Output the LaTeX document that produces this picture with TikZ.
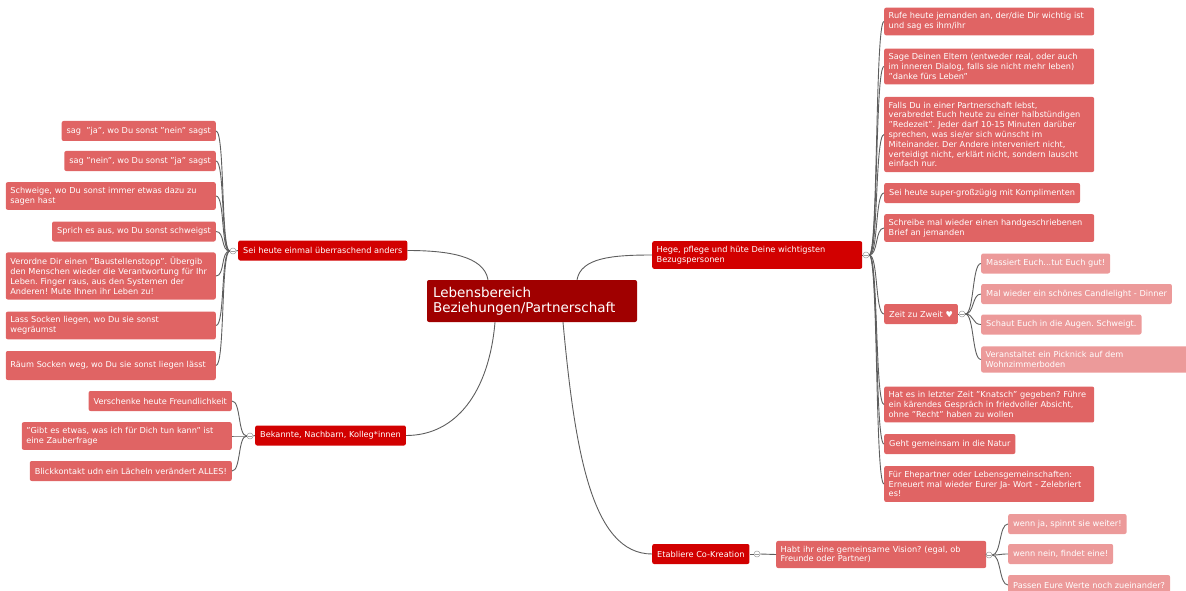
\documentclass[tikz,border=0pt]{standalone}
\usepackage{fontspec}
\setmainfont{DejaVu Sans}
\usepackage{xcolor}
\definecolor{hubred}{HTML}{A00000}
\definecolor{branchred}{HTML}{D20000}
\definecolor{leafred}{HTML}{E06464}
\definecolor{softred}{HTML}{EC9A9A}
\definecolor{linkgray}{HTML}{5E5E5E}
\frenchspacing

\begin{document}
\begin{tikzpicture}[x=1pt, y=-1pt,
    box/.style={rounded corners=2pt, text=white, font=\fontsize{8.2}{9.8}\selectfont, inner xsep=5pt, inner ysep=5pt, minimum height=20pt, align=left},
    leaf/.style={box, fill=leafred},
    soft/.style={box, fill=softred},
    branch/.style={box, fill=branchred},
    hub/.style={box, fill=hubred, font=\fontsize{13.5}{15}\selectfont, inner xsep=6pt, minimum height=42pt},
    wide/.style={text width=201pt, inner xsep=4.5pt},
    link/.style={draw=linkgray, line width=0.9pt},
    knob/.style={circle, draw=linkgray!60, fill=white, line width=0.5pt, inner sep=0pt, minimum size=6pt,
        path picture={\draw[linkgray!60, line width=0.4pt] ([xshift=1.2pt]path picture bounding box.west) -- ([xshift=-1.2pt]path picture bounding box.east);}}]
    \useasboundingbox (0,0) rectangle (1186,591);

    % centre
    \node[hub, text width=198pt] (ctr) at (532,301) {Lebensbereich\\Beziehungen/Partnerschaft};

    % left: Sei heute einmal ueberraschend anders
    \node[branch, anchor=west] (sei) at (238,250.5) {Sei heute einmal überraschend anders};
    \node[knob] (kSei) at (233,251) {};
    \node[leaf, anchor=east] (s1) at (216,131) {sag\ \ "ja", wo Du sonst "nein" sagst};
    \node[leaf, anchor=east] (s2) at (216,161) {sag "nein", wo Du sonst "ja" sagst};
    \node[leaf, wide, anchor=east] (s3) at (216,196) {Schweige, wo Du sonst immer etwas dazu zu\\sagen hast};
    \node[leaf, anchor=east] (s4) at (216,231.5) {Sprich es aus, wo Du sonst schweigst};
    \node[leaf, wide, anchor=east] (s5) at (216,276) {Verordne Dir einen "Baustellenstopp". Übergib\\den Menschen wieder die Verantwortung für Ihr\\Leben. Finger raus, aus den Systemen der\\Anderen! Mute Ihnen ihr Leben zu!};
    \node[leaf, wide, anchor=east] (s6) at (216,325.5) {Lass Socken liegen, wo Du sie sonst\\wegräumst};
    \node[leaf, wide, anchor=east, minimum height=29pt] (s7) at (216,365.5) {Räum Socken weg, wo Du sie sonst liegen lässt};

    % left: Bekannte
    \node[branch, anchor=west] (bek) at (255,435.5) {Bekannte, Nachbarn, Kolleg*innen};
    \node[knob] (kBek) at (250,436) {};
    \node[leaf, anchor=east] (b1) at (232,401) {Verschenke heute Freundlichkeit};
    \node[leaf, wide, anchor=east] (b2) at (232,436) {"Gibt es etwas, was ich für Dich tun kann" ist\\eine Zauberfrage};
    \node[leaf, anchor=east] (b3) at (232,471) {Blickkontakt udn ein Lächeln verändert ALLES!};

    % right: Hege, pflege ...
    \node[branch, wide, anchor=west] (hege) at (652,255) {Hege, pflege und hüte Deine wichtigsten\\Bezugspersonen};
    \node[knob] (kHege) at (866,255) {};
    \node[leaf, wide, anchor=west] (h1) at (884,21.5) {Rufe heute jemanden an, der/die Dir wichtig ist\\und sag es ihm/ihr};
    \node[leaf, wide, anchor=west] (h2) at (884,66.5) {Sage Deinen Eltern (entweder real, oder auch\\im inneren Dialog, falls sie nicht mehr leben)\\"danke fürs Leben"};
    \node[leaf, wide, anchor=west] (h3) at (884,134.5) {Falls Du in einer Partnerschaft lebst,\\verabredet Euch heute zu einer halbstündigen\\"Redezeit". Jeder darf 10-15 Minuten darüber\\sprechen, was sie/er sich wünscht im\\Miteinander. Der Andere interveniert nicht,\\verteidigt nicht, erklärt nicht, sondern lauscht\\einfach nur.};
    \node[leaf, anchor=west] (h4) at (884,193) {Sei heute super-großzügig mit Komplimenten};
    \node[leaf, wide, anchor=west] (h5) at (884,228) {Schreibe mal wieder einen handgeschriebenen\\Brief an jemanden};
    \node[leaf, anchor=west] (zeit) at (884,314) {Zeit zu Zweit ♥};
    \node[leaf, wide, anchor=west] (h6) at (884,404.5) {Hat es in letzter Zeit "Knatsch" gegeben? Führe\\ein kärendes Gespräch in friedvoller Absicht,\\ohne "Recht" haben zu wollen};
    \node[leaf, anchor=west] (h7) at (884,444) {Geht gemeinsam in die Natur};
    \node[leaf, wide, anchor=west] (h8) at (884,484) {Für Ehepartner oder Lebensgemeinschaften:\\Erneuert mal wieder Eurer Ja- Wort - Zelebriert\\es!};

    % Zeit zu Zweit
    \node[knob] (kZeit) at (962,314) {};
    \node[soft, anchor=west] (z1) at (981,263.5) {Massiert Euch...tut Euch gut!};
    \node[soft, anchor=west] (z2) at (981,294) {Mal wieder ein schönes Candlelight - Dinner};
    \node[soft, anchor=west] (z3) at (981,324.5) {Schaut Euch in die Augen. Schweigt.};
    \node[soft, wide, anchor=west] (z4) at (981,359.5) {Veranstaltet ein Picknick auf dem\\Wohnzimmerboden};

    % right: Co-Kreation
    \node[branch, anchor=west] (eta) at (652,554) {Etabliere Co-Kreation};
    \node[knob] (kEta) at (757,554) {};
    \node[leaf, wide, anchor=west] (habt) at (776,554.5) {Habt ihr eine gemeinsame Vision? (egal, ob\\Freunde oder Partner)};
    \node[knob] (kHabt) at (989,555) {};
    \node[soft, anchor=west] (c1) at (1008,524) {wenn ja, spinnt sie weiter!};
    \node[soft, anchor=west] (c2) at (1008,554) {wenn nein, findet eine!};
    \node[soft, anchor=west] (c3) at (1008,585) {Passen Eure Werte noch zueinander?};

    % links from the centre
    \draw[link] ([xshift=-44pt]ctr.north) .. controls +(-4,-24) and +(40,0) .. (sei.east);
    \draw[link] ([xshift=45pt]ctr.north) .. controls +(4,-22) and +(-40,0) .. (hege.west);
    \draw[link] ([xshift=-37pt]ctr.south) .. controls +(-6,70) and +(50,0) .. (bek.east);
    \draw[link] ([xshift=31pt]ctr.south) .. controls +(12,130) and +(-60,0) .. (eta.west);

    % links to the leaves
    \draw[link] (sei.west) -- (kSei.east);
    \foreach \i in {1,...,7}
        \draw[link] (kSei.west) .. controls +(-9,0) and +(9,0) .. (s\i.east);
    \draw[link] (bek.west) -- (kBek.east);
    \foreach \i in {1,...,3}
        \draw[link] (kBek.west) .. controls +(-9,0) and +(9,0) .. (b\i.east);
    \draw[link] (hege.east) -- (kHege.west);
    \foreach \n in {h1,h2,h3,h4,h5,zeit,h6,h7,h8}
        \draw[link] (kHege.east) .. controls +(9,0) and +(-9,0) .. (\n.west);
    \draw[link] (zeit.east) -- (kZeit.west);
    \foreach \i in {1,...,4}
        \draw[link] (kZeit.east) .. controls +(9,0) and +(-9,0) .. (z\i.west);
    \draw[link] (eta.east) -- (kEta.west);
    \draw[link] (kEta.east) -- (habt.west);
    \draw[link] (habt.east) -- (kHabt.west);
    \foreach \i in {1,...,3}
        \draw[link] (kHabt.east) .. controls +(9,0) and +(-9,0) .. (c\i.west);
\end{tikzpicture}
\end{document}
